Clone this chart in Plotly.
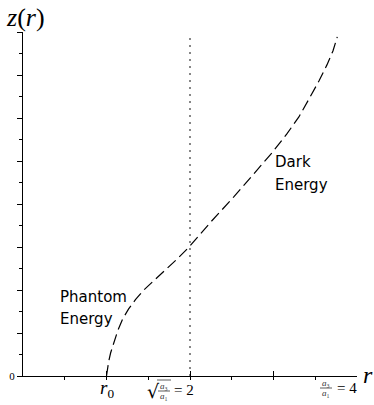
import plotly.graph_objects as go

# curve data
r_vals = [1.000, 1.010, 1.025, 1.049, 1.085, 1.133, 1.193, 1.265, 1.349, 1.445, 1.565, 1.696,
          1.840, 1.984, 2.248, 2.524, 2.764, 2.980, 3.160, 3.304, 3.424, 3.544, 3.640, 3.712, 3.764]
z_vals = [0.00, 0.28, 0.65, 1.07, 1.53, 2.09, 2.65, 3.12, 3.56, 3.99, 4.43, 4.89,
          5.42, 5.98, 7.16, 8.33, 9.40, 10.37, 11.26, 12.05, 12.88, 13.72, 14.47, 15.12, 15.77]

r0 = 1.0
r_mid = 2.0
r_end = 4.0
z_top_dotted = 15.8

x_major = [0, 1, 2, 3, 4]
y_major = [0, 2, 4, 6, 8, 10, 12, 14, 16]
y_text = ["0"] + [""] * 8

W, H = 374, 405
ML, MR, MT, MB = 23, 17, 32, 29
serif = "Liberation Serif"

fig = go.Figure()
fig.add_trace(go.Scatter(x=[r_mid, r_mid], y=[0, z_top_dotted], mode="lines",
                         line=dict(color="#555", width=1.4, dash="2px,5px"),
                         hoverinfo="skip", showlegend=False))
fig.add_trace(go.Scatter(x=r_vals, y=z_vals, mode="lines", line_shape="linear",
                         line=dict(color="black", width=1.2, dash="11px,5px"),
                         showlegend=False))

fig.update_layout(
    width=W, height=H, margin=dict(l=ML, r=MR, t=MT, b=MB, autoexpand=False),
    plot_bgcolor="white", paper_bgcolor="white", showlegend=False,
    xaxis=dict(range=[0, r_end], showgrid=False, zeroline=False, showline=True, automargin=False,
               linecolor="black", linewidth=1.2, tickvals=x_major, ticktext=[""] * 5,
               ticks="inside", ticklen=5, tickcolor="black", tickwidth=1,
               minor=dict(dtick=0.5, ticks="outside", ticklen=3, tickcolor="black", tickwidth=1),
               fixedrange=True),
    yaxis=dict(range=[0, 16], showgrid=False, zeroline=False, showline=True, automargin=False,
               linecolor="black", linewidth=1.2, tickvals=y_major, ticktext=y_text,
               ticks="outside", ticklen=5, tickcolor="black", tickwidth=1,
               tickfont=dict(family=serif, size=11, color="black"),
               minor=dict(dtick=1, ticks="outside", ticklen=2.5, tickcolor="black", tickwidth=1),
               fixedrange=True),
)

ph = H - MT - MB
pw = W - ML - MR


def py(ypix):
    return (H - MB - ypix) / ph


def px(xpix):
    return (xpix - ML) / pw


ann = []
ann.append(dict(xref="paper", x=px(25), xanchor="center", yref="paper", y=py(18), yanchor="middle",
                text="<i>z</i>(<i>r</i>)", showarrow=False,
                font=dict(family=serif, size=26, color="black")))
ann.append(dict(xref="paper", x=px(368), xanchor="center", yref="paper", y=py(375), yanchor="middle",
                text="<i>r</i>", showarrow=False,
                font=dict(family=serif, size=24, color="black")))
# tick labels
ann.append(dict(xref="x", x=r0, yref="paper", y=py(389), yanchor="middle",
                text="<i>r</i><sub>0</sub>", showarrow=False,
                font=dict(family=serif, size=19, color="black")))
# sqrt(a3/a1) = 2
ann.append(dict(xref="paper", x=px(196), xanchor="right", yref="paper", y=py(390), yanchor="middle",
                text="= 2", showarrow=False, font=dict(family=serif, size=15, color="black")))
ann.append(dict(xref="paper", x=px(164), xanchor="center", yref="paper", y=py(386), yanchor="middle",
                text="<i>a</i>₃", showarrow=False, font=dict(family=serif, size=9, color="#333")))
ann.append(dict(xref="paper", x=px(164), xanchor="center", yref="paper", y=py(396), yanchor="middle",
                text="<i>a</i>₁", showarrow=False, font=dict(family=serif, size=9, color="#333")))
ann.append(dict(xref="paper", x=px(153), xanchor="center", yref="paper", y=py(391), yanchor="middle",
                text="√", showarrow=False, font=dict(family="DejaVu Serif", size=19, color="black")))
# a3/a1 = 4
ann.append(dict(xref="paper", x=px(359), xanchor="right", yref="paper", y=py(388), yanchor="middle",
                text="= 4", showarrow=False, font=dict(family=serif, size=15, color="black")))
ann.append(dict(xref="paper", x=px(326), xanchor="center", yref="paper", y=py(383), yanchor="middle",
                text="<i>a</i>₃", showarrow=False, font=dict(family=serif, size=9, color="#333")))
ann.append(dict(xref="paper", x=px(326), xanchor="center", yref="paper", y=py(393), yanchor="middle",
                text="<i>a</i>₁", showarrow=False, font=dict(family=serif, size=9, color="#333")))
# region labels
sans = "DejaVu Sans"
for txt, xl, yc in [("Phantom", 58, 297), ("Energy", 58, 319), ("Dark", 273, 162), ("Energy", 273, 185)]:
    ann.append(dict(xref="paper", x=px(xl), xanchor="left", yref="paper", y=py(yc), yanchor="middle",
                    text=txt, showarrow=False, font=dict(family=sans, size=15, color="black")))
fig.update_layout(annotations=ann)

# fraction bars / radical overline
shapes = [
    dict(type="line", xref="paper", x0=px(158), x1=px(170), yref="paper", y0=py(391), y1=py(391),
         line=dict(color="#333", width=0.8)),
    dict(type="line", xref="paper", x0=px(157), x1=px(171), yref="paper", y0=py(380), y1=py(380),
         line=dict(color="#333", width=0.8)),
    dict(type="line", xref="paper", x0=px(320), x1=px(332), yref="paper", y0=py(388), y1=py(388),
         line=dict(color="#333", width=0.8)),
]
fig.update_layout(shapes=shapes)

fig.write_html("out.html", config={"displayModeBar": False},
               post_script="document.body.style.margin='0';")
